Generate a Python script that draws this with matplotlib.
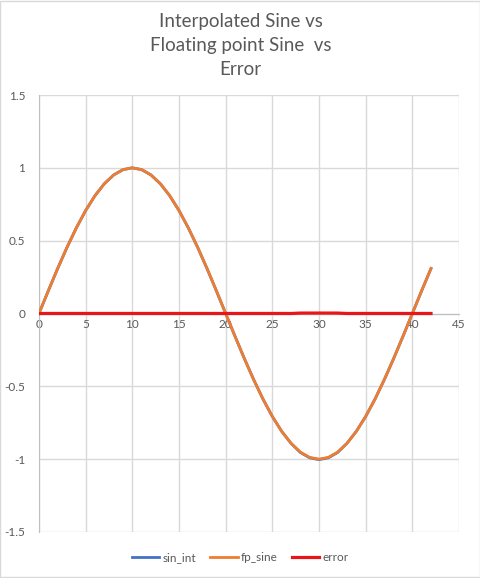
import matplotlib
matplotlib.use("Agg")
import matplotlib.pyplot as plt
from matplotlib.patches import Rectangle
from matplotlib.lines import Line2D

x_vals = list(range(0, 43))
fp_sine = [0.0, 0.1564, 0.3090, 0.4540, 0.5878, 0.7071, 0.8090, 0.8910, 0.9511, 0.9877,
           1.0, 0.9877, 0.9511, 0.8910, 0.8090, 0.7071, 0.5878, 0.4540, 0.3090, 0.1564,
           0.0, -0.1564, -0.3090, -0.4540, -0.5878, -0.7071, -0.8090, -0.8910, -0.9511, -0.9877,
           -1.0, -0.9877, -0.9511, -0.8910, -0.8090, -0.7071, -0.5878, -0.4540, -0.3090, -0.1564,
           0.0, 0.1564, 0.3090]
sin_int = [0.0, 0.1563, 0.3089, 0.4539, 0.5877, 0.7070, 0.8089, 0.8909, 0.9510, 0.9876,
           0.9999, 0.9876, 0.9510, 0.8909, 0.8089, 0.7070, 0.5877, 0.4539, 0.3089, 0.1563,
           0.0, -0.1563, -0.3089, -0.4539, -0.5877, -0.7070, -0.8089, -0.8909, -0.9540, -0.9907,
           -1.0030, -0.9907, -0.9540, -0.8909, -0.8089, -0.7070, -0.5877, -0.4539, -0.3089, -0.1563,
           0.0, 0.1563, 0.3089]
error = [0.0, 0.0001, 0.0001, 0.0001, 0.0001, 0.0001, 0.0001, 0.0001, 0.0001, 0.0001,
         0.0001, 0.0001, 0.0001, 0.0001, 0.0001, 0.0001, 0.0001, 0.0001, 0.0001, 0.0001,
         0.0, 0.0001, 0.0001, 0.0001, 0.0001, 0.0001, 0.0001, 0.0001, 0.0029, 0.0030,
         0.0030, 0.0030, 0.0029, 0.0001, 0.0001, 0.0001, 0.0001, 0.0001, 0.0001, 0.0001,
         0.0, 0.0001, 0.0001]
x_ticks = [0, 5, 10, 15, 20, 25, 30, 35, 40, 45]
y_ticks = [-1.5, -1, -0.5, 0, 0.5, 1, 1.5]
y_tick_labels = ["-1.5", "-1", "-0.5", "0", "0.5", "1", "1.5"]
title = "Interpolated Sine vs\nFloating point Sine  vs\nError"

plt.rcParams['font.family'] = ['Lato', 'DejaVu Sans']
txt = '#595959'
grid_c = '#d9d9d9'

fig = plt.figure(figsize=(4.81, 5.78), dpi=100)
fig.patches.append(Rectangle((0.001, 0.001), 0.997, 0.997, transform=fig.transFigure,
                             fill=False, edgecolor='#d9d9d9', lw=1))
ax = fig.add_axes([39/481, 46/578, 420/481, 437/578])

ax.plot(x_vals, sin_int, color='#4472C4', lw=2, zorder=3)
ax.plot(x_vals, fp_sine, color='#ED7D31', lw=2, zorder=4)
ax.plot(x_vals, error, color='#E8161B', lw=2.3, zorder=5)

ax.set_xlim(0, 45)
ax.set_ylim(-1.5, 1.5)
ax.set_xticks(x_ticks)
ax.set_yticks(y_ticks)
ax.set_yticklabels(y_tick_labels)
ax.grid(True, color=grid_c, lw=1)
ax.set_axisbelow(True)
for s in ['top', 'right']:
    ax.spines[s].set_visible(False)
ax.spines['left'].set_color('#bfbfbf')
ax.spines['bottom'].set_position(('data', 0))
ax.spines['bottom'].set_color('#bfbfbf')
ax.spines['bottom'].set_zorder(2)
ax.tick_params(axis='both', length=0, labelsize=8.5, labelcolor=txt)
ax.tick_params(axis='y', pad=10)
ax.tick_params(axis='x', pad=4)

fig.text(0.5, 0.978, title, ha='center', va='top', fontsize=13.5, color=txt, linespacing=1.5)

handles = [Line2D([], [], color='#4472C4', lw=2),
           Line2D([], [], color='#ED7D31', lw=2),
           Line2D([], [], color='#E8161B', lw=2.3)]
fig.legend(handles, ['sin_int', 'fp_sine', 'error'], loc='center', bbox_to_anchor=(0.5, 0.035),
           ncol=3, frameon=False, fontsize=8.5, labelcolor=txt, handlelength=2.3,
           handletextpad=0.3, columnspacing=1.2)

fig.savefig('out.png', dpi=100)
